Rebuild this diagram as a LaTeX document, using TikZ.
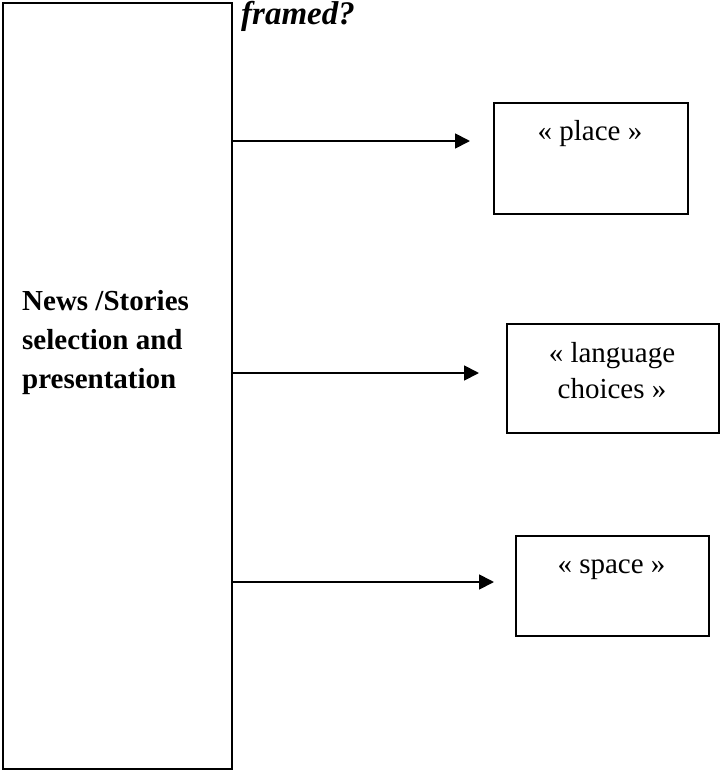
\documentclass[tikz,border=0pt]{standalone}
\usepackage{fontspec}
\setmainfont{Liberation Serif}
\usetikzlibrary{positioning,arrows.meta}
\tikzset{
  flowarrow/.style={-{Triangle[length=15pt, width=15pt]}, line width=1.8pt},
  framebox/.style={draw, line width=1.6pt, anchor=north west, inner sep=0pt},
  boxtext/.style={font=\fontsize{29}{36}\selectfont, align=center, anchor=base, inner sep=0pt},
  headtext/.style={font=\fontsize{29}{39}\selectfont\bfseries, align=left, anchor=base west, inner sep=0pt}
}

\begin{document}
\begin{tikzpicture}[x=1pt, y=-1pt]
  \useasboundingbox (0,0) rectangle (720,771);
  \node[framebox, minimum width=229pt, minimum height=766pt] (select) at (2,2) {};
  % base anchor sits on the last line
  \node[headtext] (selecttext) at (22,388) {News /Stories\\selection and\\presentation};
  \node[anchor=base west, inner sep=0pt, font=\fontsize{33}{39}\selectfont\bfseries\itshape] (framed) at (241,24) {framed?};
  \node[framebox, minimum width=194pt, minimum height=111pt] (place) at (493,102) {};
  \node[framebox, minimum width=212pt, minimum height=109pt] (lang) at (506,323) {};
  \node[framebox, minimum width=193pt, minimum height=100pt] (space) at (515,535) {};
  \node[boxtext] (placetext) at (590,140) {« place »};
  \node[boxtext] (langtext) at (612,398) {« language\\choices »};
  \node[boxtext] (spacetext) at (611.5,573) {« space »};
  \coordinate (placein) at (470,141);
  \coordinate (langin) at (479,373);
  \coordinate (spacein) at (494,582);
  \draw[flowarrow] (select.east |- placein) -- (placein);
  \draw[flowarrow] (select.east |- langin) -- (langin);
  \draw[flowarrow] (select.east |- spacein) -- (spacein);
\end{tikzpicture}
\end{document}
